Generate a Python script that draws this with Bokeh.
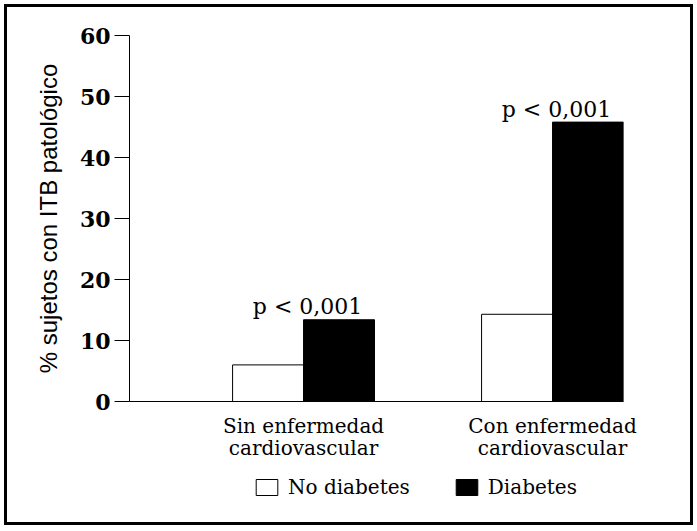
from bokeh.plotting import figure
from bokeh.layouts import column
from bokeh.models import (Range1d, FixedTicker, Legend, LegendItem,
                          ColumnDataSource)
from bokeh.transform import dodge
from bokeh.core.properties import value
from bokeh.embed import file_html
from bokeh.resources import INLINE

# ---- data ----
categories = ["Sin enfermedad\ncardiovascular", "Con enfermedad\ncardiovascular"]
no_diabetes = [6.0, 14.3]
diabetes = [13.4, 45.8]
p_labels = ["p < 0,001", "p < 0,001"]
series_names = ["No diabetes", "Diabetes"]
y_ticks = [0, 10, 20, 30, 40, 50, 60]
y_label = "% sujetos con ITB patológico"

positions = [1, 2]
bar_w = 0.285
colors = ["white", "black"]

SERIF = "DejaVu Serif"
SANS = "Liberation Sans"

src = ColumnDataSource(dict(x=positions, nd=no_diabetes, d=diabetes, p=p_labels))

W = 683
p = figure(width=W, height=465, output_backend="svg", toolbar_location=None,
           x_range=Range1d(0.301, 2.285), y_range=Range1d(0, 60),
           min_border_left=122, min_border_right=67,
           min_border_top=28, min_border_bottom=71,
           background_fill_color="white", border_fill_color="white")
p.outline_line_color = None
p.grid.grid_line_color = None

r_nd = p.vbar(x=dodge("x", -bar_w / 2), top="nd", width=bar_w, source=src,
              fill_color=colors[0], line_color="black", line_width=1)
r_d = p.vbar(x=dodge("x", bar_w / 2), top="d", width=bar_w, source=src,
             fill_color=colors[1], line_color="black", line_width=1)

p.text(x="x", y="d", text="p", source=src,
       x_offset=4, y_offset=-13, text_align="center", text_baseline="alphabetic",
       text_font=value(SERIF), text_font_size="22px", text_color="black")

# x axis
p.xaxis.ticker = FixedTicker(ticks=positions)
p.xaxis.major_label_overrides = {positions[0]: categories[0], positions[1]: categories[1]}
p.xaxis.major_tick_line_color = None
p.xaxis.minor_tick_line_color = None
p.xaxis.major_label_standoff = 6
p.xaxis.major_label_text_font = SERIF
p.xaxis.major_label_text_font_size = "20px"
p.xaxis.major_label_text_line_height = 0.95
p.xaxis.major_label_text_color = "black"
p.xaxis.axis_line_color = "black"

# y axis
p.yaxis.ticker = FixedTicker(ticks=y_ticks)
p.yaxis.major_tick_out = 15
p.yaxis.major_tick_in = 0
p.yaxis.minor_tick_line_color = None
p.yaxis.major_label_standoff = 4
p.yaxis.major_label_text_font = SERIF
p.yaxis.major_label_text_font_style = "bold"
p.yaxis.major_label_text_font_size = "22px"
p.yaxis.major_label_text_color = "black"
p.yaxis.axis_label = y_label
p.yaxis.axis_label_text_font = SANS
p.yaxis.axis_label_text_font_style = "normal"
p.yaxis.axis_label_text_font_size = "24px"
p.yaxis.axis_label_text_color = "black"
p.yaxis.axis_label_standoff = 15

# legend strip (separate figure below the chart; its frame aligns with the chart's)
leg = figure(width=W, height=50, output_backend="svg", toolbar_location=None,
             x_range=Range1d(100, 101), y_range=Range1d(100, 101),
             x_axis_location=None, y_axis_location=None,
             min_border_left=0, min_border_right=0, min_border_top=0, min_border_bottom=0,
             background_fill_color="white", border_fill_color="white")
leg.outline_line_color = None
leg.grid.grid_line_color = None
l_nd = leg.vbar(x="x", top="nd", width=bar_w, source=src,
                fill_color=colors[0], line_color="black", line_width=1)
l_d = leg.vbar(x="x", top="d", width=bar_w, source=src,
               fill_color=colors[1], line_color="black", line_width=1)

legend = Legend(items=[LegendItem(label=series_names[0], renderers=[l_nd]),
                       LegendItem(label=series_names[1], renderers=[l_d])],
                orientation="horizontal", location=(124, 23),
                padding=0, margin=0, spacing=43,
                glyph_width=27, glyph_height=20, label_standoff=8, label_height=20,
                label_text_font=SERIF, label_text_font_size="20px",
                label_text_color="black",
                border_line_color=None, background_fill_alpha=0)
leg.add_layout(legend)

layout = column(p, leg, spacing=0,
                styles={"border": "3px solid black", "margin": "4px",
                        "background-color": "white"})

open("out.html", "w").write(file_html(layout, INLINE))
